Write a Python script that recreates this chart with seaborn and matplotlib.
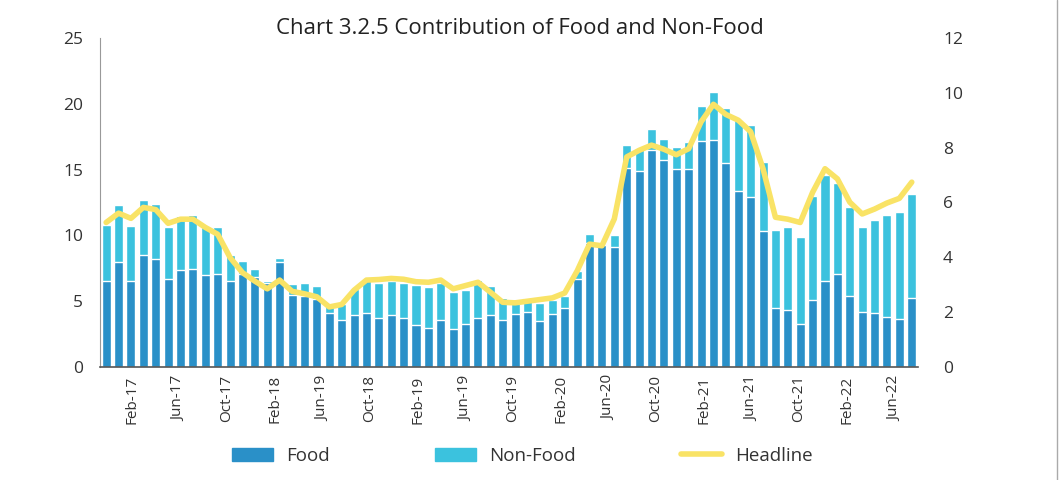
import numpy as np
import pandas as pd
import matplotlib
matplotlib.use("Agg")
import matplotlib.pyplot as plt
import seaborn as sns
from matplotlib.patches import Patch
from matplotlib.lines import Line2D

sns.set_style("white")
plt.rcParams['font.family'] = ['Open Sans', 'DejaVu Sans']

# monthly values
food = [6.5, 8.0, 6.5, 8.5, 8.2, 6.7, 7.4, 7.45, 7.0, 7.1,
        6.55, 7.1, 6.85, 6.4, 8.0, 5.5, 5.4, 5.2, 4.1, 3.6,
        3.95, 4.1, 3.7, 3.95, 3.7, 3.2, 2.95, 3.55, 2.9, 3.25,
        3.7, 3.95, 3.55, 4.0, 4.2, 3.5, 4.0, 4.5, 6.7, 9.4,
        9.25, 9.1, 15.1, 14.9, 16.5, 15.7, 15.05, 15.05, 17.2, 17.25,
        15.5, 13.4, 12.9, 10.35, 4.5, 4.35, 3.3, 5.1, 6.55, 7.05,
        5.4, 4.2, 4.1, 3.8, 3.65, 5.25]
non_food = [4.3, 4.3, 4.2, 4.2, 4.2, 3.9, 4.1, 4.1, 3.6, 3.5,
            1.95, 0.95, 0.6, 0.15, 0.3, 0.8, 1.0, 0.95, 0.75, 1.2,
            2.0, 2.5, 2.7, 2.55, 2.7, 3.0, 3.1, 2.8, 2.8, 2.6,
            2.9, 2.2, 1.7, 1.0, 1.05, 1.35, 1.1, 0.9, 0.6, 0.7,
            0.1, 0.95, 1.75, 1.65, 1.6, 1.6, 1.65, 2.05, 2.65, 3.65,
            4.2, 5.4, 5.5, 5.25, 5.9, 6.3, 6.6, 7.9, 8.05, 6.95,
            6.75, 6.45, 7.05, 7.75, 8.1, 7.9]
headline = [5.27, 5.61, 5.42, 5.82, 5.74, 5.24, 5.39, 5.39, 5.09, 4.84,
            3.99, 3.44, 3.13, 2.85, 3.17, 2.76, 2.67, 2.56, 2.19, 2.28,
            2.8, 3.17, 3.19, 3.23, 3.2, 3.11, 3.09, 3.17, 2.85, 2.97,
            3.09, 2.73, 2.36, 2.34, 2.4, 2.46, 2.52, 2.7, 3.5, 4.48,
            4.42, 5.4, 7.66, 7.9, 8.09, 7.94, 7.74, 7.96, 8.94, 9.58,
            9.21, 9.0, 8.58, 7.23, 5.46, 5.39, 5.27, 6.37, 7.23, 6.86,
            6.01, 5.58, 5.76, 5.98, 6.15, 6.74]
tick_labels = ['Feb-17', 'Jun-17', 'Oct-17', 'Feb-18', 'Jun-19', 'Oct-18',
               'Feb-19', 'Jun-19', 'Oct-19', 'Feb-20', 'Jun-20', 'Oct-20',
               'Feb-21', 'Jun-21', 'Oct-21', 'Feb-22', 'Jun-22']

months = pd.date_range('2016-12-01', periods=len(food), freq='MS').strftime('%b-%y')
df = pd.DataFrame({'month': months, 'Food': food, 'Non-Food': non_food, 'Headline': headline})
df['total'] = df['Food'] + df['Non-Food']

c_food = '#2A90C8'
c_nonfood = '#3BC2DE'
c_head = '#F9E366'
txt = '#333333'

fig = plt.figure(figsize=(10.6, 4.8), dpi=100)
ax = fig.add_axes([0.0943, 0.2354, 0.7717, 0.6856])

sns.barplot(data=df, x='month', y='total', color=c_nonfood, width=0.73,
            saturation=1, ax=ax)
sns.barplot(data=df, x='month', y='Food', color=c_food, width=0.73,
            saturation=1, ax=ax)

ax2 = ax.twinx()
sns.lineplot(x=np.arange(len(df)), y=df['Headline'], color=c_head, lw=4,
             ax=ax2, solid_capstyle='round', solid_joinstyle='round')

ax.set_xlim(-0.5, len(df) - 0.5)
ax.set_ylim(0, 25)
ax2.set_ylim(0, 12)
ax.set_yticks(range(0, 26, 5))
ax2.set_yticks(range(0, 13, 2))

# category labels only every ~4 months
tick_pos = np.linspace(2.05, 63.6, len(tick_labels))
ax.set_xticks(tick_pos)
ax.set_xticklabels(tick_labels, rotation=90, fontsize=11, color=txt)
ax.tick_params(axis='x', length=0, pad=6)
ax.tick_params(axis='y', length=0, labelsize=12.5, labelcolor=txt, pad=12)
ax2.tick_params(axis='y', length=0, labelsize=12.5, labelcolor=txt, pad=18)
ax.set_xlabel('')
ax.set_ylabel('')
ax2.set_ylabel('')

for a in (ax, ax2):
    for s in ['top', 'right']:
        a.spines[s].set_visible(False)
ax2.spines['left'].set_visible(False)
ax2.spines['bottom'].set_visible(False)
ax.spines['left'].set_color('#999999')
ax.spines['bottom'].set_color('#555555')
ax.spines['bottom'].set_linewidth(1.2)

fig.text(0.49, 0.94, 'Chart 3.2.5 Contribution of Food and Non-Food',
         ha='center', va='center', fontsize=16, color='#222222')

handles = [Patch(color=c_food), Patch(color=c_nonfood),
           Line2D([0], [0], color=c_head, lw=4)]
fig.legend(handles, ['Food', 'Non-Food', 'Headline'], loc='center',
           bbox_to_anchor=(0.4925, 0.05), ncol=3, frameon=False,
           fontsize=13.5, handlelength=2.2, handletextpad=0.7,
           columnspacing=5.6, labelcolor=txt)

# thin frame edge on the right, as in the source
fig.add_artist(Line2D([0.997, 0.997], [0, 1], color='#aaaaaa', lw=1))

fig.savefig('out.png', dpi=100)
